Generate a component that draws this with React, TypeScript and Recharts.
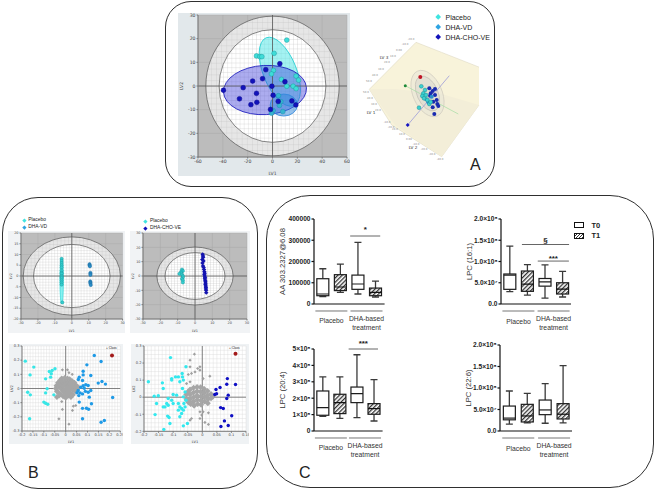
import {
  Area,
  Bar,
  CartesianGrid,
  ComposedChart,
  ReferenceArea,
  ReferenceDot,
  ReferenceLine,
  Scatter,
  ScatterChart,
  XAxis,
  YAxis,
} from "recharts"

// panel A score plot
const aPlacebo = [[11.5,19.4],[1.3,13.8],[-12.9,12.7],[-10.2,12.4],[-8.6,12.4],[0.8,6.6],[-0.8,5.1],[7.2,2.8],[19,4.2],[21,2.5],[11.5,-0.1],[16.6,-0.1],[19,-1.1]]
const aVd = [[4.8,-4.1],[6.7,-6.6],[5.6,-8.2],[0.5,-10.4],[-0.8,-11.5],[8.3,-10.8]]
const aCho = [[5.9,9.4],[-5.4,6.9],[-8,3.1],[-16,2.1],[10,1.8],[-0.5,-0.1],[-39.5,-1.8],[-23.6,-0.7],[-12.9,-3.1],[-26.6,-5.4],[-12.6,-6.9],[-17.4,-7.9],[0.5,-3.9],[4.6,-6.5],[15.6,-6.3],[18.8,-8],[-1.6,-9.9]]

// panel A 3D view, in projection units
const floorEdge = [
  { x: 29.3, edge: [59.3, 59.3] },
  { x: 51.7, edge: [36.8, 95] },
  { x: 76, edge: [12.3, 110.4] },
  { x: 101.7, edge: [22.4, 126.7] },
  { x: 138, edge: [36.7, 76.4] },
  { x: 139, edge: [37.1, 75] },
]
const wallEdge = [
  { x: 29.3, edge: [59.3, 59.3] },
  { x: 55, edge: [59, 95] },
  { x: 101.7, edge: [64, 126.7] },
  { x: 139, edge: [75, 75] },
]
const cubePlacebo = [[81.3,56.3],[85,60],[83.3,63.3],[82.3,66],[84,68.3],[87.3,70],[89.3,74],[79,77.7],[86,65],[90.7,72]]
const cubeVd = [[86,69.3],[88.3,72.3],[91.7,66.7]]
const cubeCho = [[89.3,58.3],[95,59],[92.7,61],[90.7,63.3],[95,65],[96.7,70],[93.3,71.7],[97.3,74],[92.7,77.3],[94.3,84],[98.3,76],[90,65.7]]
const cubeRed = [[80.3,47]]
const cubeGreen = [[65.3,55.7]]
const cubeArrow = [[67.7,95]]
const cubeAxisGreen = [[65.3,55.7],[118.3,84]]
const cubeAxisBlue = [[67.7,95],[109.3,45.7]]
const cubeTicks = [
  { x: 29, y: 52, text: "50.0" }, { x: 35, y: 46, text: "40.0" }, { x: 41, y: 40, text: "30.0" }, { x: 47, y: 33, text: "20.0" },
  { x: 53, y: 27, text: "10.0" }, { x: 59, y: 21, text: "0.00" }, { x: 65, y: 15, text: "-10.0" }, { x: 71, y: 10, text: "-20.0" },
  { x: 26, y: 63, text: "50.0" }, { x: 30, y: 69, text: "40.0" }, { x: 34, y: 75, text: "30.0" }, { x: 38, y: 81, text: "20.0" },
  { x: 47, y: 93, text: "-10.0" }, { x: 51, y: 98, text: "-20.0" },
  { x: 55, y: 100, text: "20.0" }, { x: 62, y: 105, text: "10.0" }, { x: 69, y: 110, text: "0.00" }, { x: 76, y: 115, text: "-10.0" },
  { x: 84, y: 120, text: "-20.0" }, { x: 92, y: 125, text: "-30.0" }, { x: 100, y: 130, text: "-40.0" },
]
const cubeNames = [
  { x: 44, y: 29, text: "LV 3" },
  { x: 31, y: 84, text: "LV 1" },
  { x: 73, y: 119, text: "LV 2" },
]

// panel B scores
const b1Placebo = [[-6,8],[-6,7],[-6,6],[-6,5],[-6,4],[-6,2.5],[-6,1.5],[-6,1],[-6,0],[-6,-0.5],[-6,-1],[-6,-2],[-6,-3],[-6,-4],[-5.6,-12.3]]
const b1Vd = [[10.5,5.5],[10.5,5],[10.7,4.5],[11,1.5],[11,1],[11,0.5],[10.9,-2.5],[11,-3],[11,-3.5],[11.2,-4.2]]
const b2Placebo = [[-7.5,4.5],[-7,3.5],[-8,3],[-8,2],[-9,1.5],[-7.5,1],[-7,0],[-7,-1],[-7.5,-2],[-7,-3],[-7,-4.5]]
const b2Cho = [[4.4,15.1],[4.6,14],[4.7,13],[4.2,11.5],[4.9,10.5],[4.3,9],[4.6,7],[5,6],[5.2,4.5],[5.4,3],[5.6,2],[5.4,1],[5.6,0],[5.8,-1],[5.7,-2],[5.9,-3],[6,-4],[6.1,-5],[6,-6],[6.2,-7],[6.3,-8],[6.3,-9],[6.4,-10],[6.5,-11.6]]

// panel B loadings
const l1Placebo = [[-0.185,0.193],[-0.146,0.151],[-0.163,0.096],[-0.092,0.068],[-0.069,0.08],[-0.066,0.104],[-0.062,0.127],[-0.049,0.139],[-0.075,0.12],[-0.085,-0.002],[-0.092,-0.031],[-0.174,-0.026],[-0.162,-0.045],[-0.1,-0.096],[-0.092,-0.104],[-0.082,-0.111],[-0.165,-0.214],[-0.054,-0.045]]
const l1Vd = [[0.131,0.233],[0.162,0.191],[0.097,0.167],[0.08,0.122],[0.115,0.092],[0.08,0.096],[0.062,0.08],[0.058,0.064],[0.077,0.056],[0.166,0.049],[0.149,0.038],[0.182,0.031],[0.215,-0.064],[0.092,0.026],[0.103,0.021],[0.069,0.009],[0.085,0.002],[0.057,-0.014],[0.066,-0.031],[0.077,-0.038],[0.103,-0.026],[0.115,-0.014],[0.108,-0.061],[0.118,-0.108],[0.062,-0.096],[0.077,-0.14],[0.077,-0.214],[0.095,-0.139],[0.105,-0.146],[0.162,-0.238],[0.177,-0.226],[0.052,-0.03],[0.06,-0.05],[0.08,0.02],[0.09,-0.02]]
const l1Stray = [[-0.015,0.132],[0.008,0.132],[0.015,0.112],[0.03,0.1],[-0.031,-0.214],[0.015,-0.252],[0.031,-0.155],[0.035,-0.125],[0.046,-0.12],[-0.015,-0.148],[-0.018,-0.092]]
const l1Cloud = [[-0.04,-0.06],[-0.045,0],[-0.042,0.02],[-0.04,-0.02],[-0.035,0.04],[-0.033,0.01],[-0.032,-0.03],[-0.03,-0.05],[-0.025,0.058],[-0.024,0.03],[-0.022,0],[-0.023,-0.04],[-0.018,0.07],[-0.014,0.045],[-0.012,0.015],[-0.012,-0.018],[-0.012,-0.055],[-0.005,0.075],[-0.003,0.05],[-0.002,0.025],[-0.001,-0.005],[0,-0.035],[0,-0.065],[0.008,0.07],[0.009,0.04],[0.01,0.012],[0.011,-0.02],[0.012,-0.05],[0.018,0.065],[0.02,0.032],[0.021,0],[0.022,-0.035],[0.024,-0.06],[0.03,0.052],[0.031,0.02],[0.032,-0.012],[0.033,-0.045],[0.04,0.04],[0.042,0.01],[0.043,-0.02],[0.05,0.02],[0.052,-0.005],[0.058,0.005]]
const l2Placebo = [[-0.185,0.09],[-0.109,0.232],[-0.056,0.178],[-0.137,0.084],[-0.134,0.051],[-0.165,0.006],[-0.151,0.008],[-0.157,-0.037],[-0.162,-0.102],[-0.132,-0.189],[-0.111,-0.154],[-0.119,-0.111],[-0.114,-0.119],[-0.065,-0.168],[-0.051,-0.154],[-0.105,0.109],[-0.092,0.119],[-0.082,0.119],[-0.069,0.139],[-0.068,0.119],[-0.065,0.1],[-0.077,0.09],[-0.1,0.016],[-0.088,0.012],[-0.068,0.051],[-0.059,0.031],[-0.065,0.002],[-0.082,-0.037],[-0.077,-0.057],[-0.071,-0.066],[-0.059,-0.057],[-0.065,-0.076],[-0.071,-0.096],[-0.077,-0.115],[-0.082,-0.076],[-0.122,-0.037],[-0.128,-0.057],[-0.134,-0.057],[-0.117,-0.047],[-0.105,-0.018],[-0.117,-0.008],[-0.1,-0.037],[-0.056,-0.018],[-0.063,-0.037],[-0.105,0.1]]
const l2Cho = [[0.086,0.109],[0.084,0.076],[0.114,0.074],[0.061,0.057],[0.047,0.045],[0.049,0.02],[0.043,0.016],[0.089,0.012],[0.084,-0.008],[0.063,-0.061],[0.072,-0.066],[0.101,-0.109],[0.076,-0.139],[0.064,-0.172],[0.089,-0.166]]
const l2Stray = [[-0.027,0.252],[-0.042,0.217],[-0.042,0.178],[-0.008,0.178],[-0.016,0.168],[-0.025,0.148],[-0.037,0.139],[-0.048,0.133],[-0.008,0.158],[0.026,0.123],[-0.054,0.08],[-0.042,0.09],[0.003,0.109],[-0.037,-0.125],[-0.042,-0.135],[-0.008,-0.086],[0.003,-0.086],[0.021,-0.092],[-0.002,-0.105],[0.009,-0.148],[0.021,-0.16],[-0.008,-0.125]]
const l2Cloud = [[-0.055,0.015],[-0.054,-0.01],[-0.05,0.03],[-0.048,-0.03],[-0.042,0.045],[-0.042,0.015],[-0.042,-0.012],[-0.04,-0.04],[-0.03,0.055],[-0.03,0.028],[-0.03,0],[-0.03,-0.025],[-0.028,-0.05],[-0.018,0.06],[-0.018,0.035],[-0.018,0.01],[-0.017,-0.015],[-0.016,-0.04],[-0.006,0.058],[-0.006,0.032],[-0.005,0.006],[-0.005,-0.02],[-0.004,-0.045],[0.006,0.05],[0.006,0.025],[0.007,0],[0.007,-0.025],[0.018,0.036],[0.018,0.012],[0.019,-0.012],[0.019,-0.035],[0.03,0.018],[0.03,-0.006],[0.036,0.002]]

// panel C boxes: low, q1, median, q3, high
const aaBoxes = [[35000,39000,47000,119000,166000],[55000,63000,80000,138000,188000],[47000,69000,94000,136000,290000],[33000,39000,55000,75000,108000]]
const lpc161Boxes = [[2.9e7,3.45e7,6.8e7,7.06e7,13.6e7],[2.1e7,2.98e7,4.7e7,7.76e7,9.25e7],[1.4e7,4.2e7,5.2e7,6e7,9.2e7],[1.65e7,2.35e7,3.5e7,5e7,7.7e7]]
const lpc204Boxes = [[0.9e8,0.96e8,1.42e8,2.44e8,3.3e8],[0.77e8,1.06e8,1.73e8,2.24e8,3.3e8],[0.81e8,1.73e8,2.28e8,2.68e8,4.65e8],[0.61e8,1.02e8,1.36e8,1.67e8,3.13e8]]
const lpc226Boxes = [[1.6e7,2.6e7,3e7,5.8e7,9.3e7],[1.9e7,2.1e7,3.5e7,6.2e7,8.76e7],[1.8e7,3.8e7,4.9e7,7.2e7,11e7],[1.9e7,2.8e7,3.9e7,6.36e7,15.2e7]]
const boxGroups = ["Placebo", "DHA-based|treatment"]
const aaTicks = [0, 100000, 200000, 300000, 400000]
const lpc2Ticks = [0, 5e7, 1e8, 1.5e8, 2e8]
const lpc5Ticks = [0, 1e8, 2e8, 3e8, 4e8, 5e8]
const lpc2Labels: Record<number, string> = { 0: "0.0", 5e7: "5.0×10⁷", 1e8: "1.0×10⁸", 1.5e8: "1.5×10⁸", 2e8: "2.0×10⁸" }
const lpc5Labels: Record<number, string> = { 0: "0", 1e8: "1×10⁸", 2e8: "2×10⁸", 3e8: "3×10⁸", 4e8: "4×10⁸", 5e8: "5×10⁸" }

const PLACEBO = "#40e4e0"
const VD = "#2ea4e2"
const CHO = "#1212ba"
const FONT = "Liberation Sans, Arial, sans-serif"
const PLOT_FONT = "DejaVu Sans, sans-serif"

const toPoints = (rows: number[][]) => rows.map(([x, y]) => ({ x, y }))
const gridLines = (from: number, to: number, step: number) => {
  const out: number[] = []
  for (let v = from; v <= to + step / 10; v += step) out.push(+v.toFixed(4))
  return out
}

function RingShape(props: any) {
  const { x, y, width, height, fill, ringId, cols, rows, ringStroke } = props
  return (
    <g>
      <defs>
        <pattern id={ringId} patternUnits="objectBoundingBox" width={1 / cols} height={1 / rows}>
          <rect width={width / cols} height={height / rows} fill={fill} />
          <path d={`M${width / cols} 0H0V${height / rows}`} fill="none" stroke="#bdbdbd" strokeWidth={0.5} />
        </pattern>
      </defs>
      <ellipse cx={x + width / 2} cy={y + height / 2} rx={width / 2} ry={height / 2} fill={`url(#${ringId})`} stroke={ringStroke} strokeWidth={0.7} />
    </g>
  )
}

function BlobShape(props: any) {
  const { x, y, width, height, fill, stroke, fillOpacity, angle = 0 } = props
  const cx = x + width / 2
  const cy = y + height / 2
  return <ellipse cx={cx} cy={cy} rx={width / 2} ry={height / 2} fill={fill} fillOpacity={fillOpacity} stroke={stroke} strokeWidth={0.8} transform={`rotate(${angle} ${cx} ${cy})`} />
}

const dot = (r: number, fill: string, stroke = "none") => (p: any) => (
  <circle cx={p.cx} cy={p.cy} r={r} fill={fill} stroke={stroke} strokeWidth={0.5} />
)
const diamond = (r: number, fill: string) => (p: any) => (
  <path d={`M${p.cx} ${p.cy - r}L${p.cx + r} ${p.cy}L${p.cx} ${p.cy + r}L${p.cx - r} ${p.cy}Z`} fill={fill} />
)

function Frame({ left, top, width, height, radius }: any) {
  return (
    <div style={{ position: "absolute", left, top, width, height, borderRadius: radius, border: "1.4px solid #2f2f2f", boxSizing: "border-box" }} />
  )
}

function Caption({ left, top, size = 15, bold = false, children }: any) {
  return (
    <div style={{ position: "absolute", left, top, fontSize: size, lineHeight: 1, fontWeight: bold ? 700 : 400, fontFamily: FONT, color: "#222", whiteSpace: "nowrap" }}>
      {children}
    </div>
  )
}

function LegendRow({ left, top, color, size, textSize, label, gap }: any) {
  return (
    <>
      <div style={{ position: "absolute", left: left - size / 2, top: top - size / 2, width: size, height: size, background: color, transform: "rotate(45deg)" }} />
      <Caption left={left + gap} top={top - textSize / 2} size={textSize}>{label}</Caption>
    </>
  )
}

function ScorePlot({ left, top, width, height, xDomain, yDomain, xTicks, yTicks, outer, inner, cols, rows, fontSize, id, blobs = [], series, yw, xh, back = "#e2e8eb", xLabel = "LV1", yLabel = "LV2" }: any) {
  const labelStyle = { fontSize, fill: "#444", fontFamily: PLOT_FONT }
  return (
    <div style={{ position: "absolute", left: left - yw, top: top - 2 }}>
      <ScatterChart width={width + yw + 3} height={height + xh + 2} margin={{ top: 2, right: 3, bottom: 0, left: 0 }} style={{ background: back }}>
        <CartesianGrid fill="#bcbcbc" stroke="#a9a9a9" strokeWidth={0.5} verticalValues={xTicks} horizontalValues={yTicks} />
        <XAxis type="number" dataKey="x" domain={xDomain} ticks={xTicks} height={xh} allowDataOverflow tickSize={1.5} tickMargin={1} interval={0} stroke="#777" tick={labelStyle} label={{ value: xLabel, position: "insideBottom", offset: 1, ...labelStyle }} />
        <YAxis type="number" dataKey="y" domain={yDomain} ticks={yTicks} width={yw} allowDataOverflow tickSize={1.5} tickMargin={1} interval={0} stroke="#777" tick={labelStyle} label={{ value: yLabel, angle: -90, position: "insideLeft", offset: fontSize * 0.7, ...labelStyle, style: { textAnchor: "middle" } }} />
        <ReferenceArea x1={-outer[0]} x2={outer[0]} y1={-outer[1]} y2={outer[1]} ifOverflow="visible" shape={(p: any) => <RingShape {...p} fill="#e6e6e6" ringId={`${id}o`} cols={cols} rows={rows} ringStroke="#555" />} />
        <ReferenceArea x1={-inner[0]} x2={inner[0]} y1={-inner[1]} y2={inner[1]} ifOverflow="visible" shape={(p: any) => <RingShape {...p} fill="#ffffff" ringId={`${id}i`} cols={cols} rows={rows} ringStroke="#555" />} />
        <ReferenceLine x={0} stroke="#555" strokeWidth={0.8} />
        <ReferenceLine y={0} stroke="#555" strokeWidth={0.8} />
        {blobs.map((b: any, i: number) => (
          <ReferenceArea key={i} x1={b.x[0]} x2={b.x[1]} y1={b.y[0]} y2={b.y[1]} ifOverflow="visible" shape={(p: any) => <BlobShape {...p} fill={b.fill} fillOpacity={b.opacity} stroke={b.stroke} angle={b.angle} />} />
        ))}
        {series.map((s: any, i: number) => (
          <Scatter key={i} data={toPoints(s.rows)} shape={s.shape} isAnimationActive={false} />
        ))}
      </ScatterChart>
    </div>
  )
}

function LoadingPlot({ left, top, width, height, xDomain, yDomain, xTicks, yTicks, xFine, yFine, series }: any) {
  const yw = 13
  const xh = 13
  const ticks = { fontSize: 3.6, fill: "#444", fontFamily: PLOT_FONT }
  return (
    <div style={{ position: "absolute", left: left - yw, top: top - 2 }}>
      <ScatterChart width={width + yw + 3} height={height + xh + 2} margin={{ top: 2, right: 3, bottom: 0, left: 0 }} style={{ background: "#eff2f4" }}>
        <CartesianGrid fill="#ffffff" stroke="#d9d9d9" strokeWidth={0.4} verticalValues={xFine} horizontalValues={yFine} />
        <XAxis type="number" dataKey="x" domain={xDomain} ticks={xTicks} height={xh} allowDataOverflow tickSize={1.5} tickMargin={1} interval={0} stroke="#777" tick={ticks} label={{ value: "LV1", position: "insideBottom", offset: 1, ...ticks }} />
        <YAxis type="number" dataKey="y" domain={yDomain} ticks={yTicks} width={yw} allowDataOverflow tickSize={1.5} tickMargin={1} interval={0} stroke="#777" tick={ticks} label={{ value: "LV2", angle: -90, position: "insideLeft", offset: 2.5, ...ticks, style: { textAnchor: "middle" } }} />
        <ReferenceLine x={0} stroke="#666" strokeWidth={0.8} />
        <ReferenceLine y={0} stroke="#666" strokeWidth={0.8} />
        {series.map((s: any, i: number) => (
          <Scatter key={i} data={toPoints(s.rows)} shape={s.shape} isAnimationActive={false} />
        ))}
      </ScatterChart>
    </div>
  )
}

const tinyText = (size: number, color: string) => (p: any) => (
  <text x={p.cx} y={p.cy} fontSize={size} fill={color} textAnchor="middle" fontFamily={PLOT_FONT}>{p.payload.text}</text>
)

const cubeMargin = { top: 0, right: 0, bottom: 0, left: 0 }

function CubeView() {
  return (
    <>
      <div style={{ position: "absolute", left: 340, top: 30 }}>
        <ComposedChart width={145} height={135} margin={cubeMargin} data={floorEdge}>
          <XAxis type="number" dataKey="x" domain={[0, 145]} hide allowDataOverflow />
          <YAxis type="number" domain={[0, 135]} reversed hide allowDataOverflow />
          <Area data={floorEdge} dataKey="edge" type="linear" stroke="#d9d3ba" strokeWidth={0.5} fill="#f8f3da" fillOpacity={1} isAnimationActive={false} dot={false} activeDot={false} />
          <Area data={wallEdge} dataKey="edge" type="linear" stroke="none" fill="#f3eed8" fillOpacity={1} isAnimationActive={false} dot={false} activeDot={false} />
        </ComposedChart>
      </div>
      <div style={{ position: "absolute", left: 340, top: 30 }}>
        <ScatterChart width={145} height={135} margin={cubeMargin}>
          <XAxis type="number" dataKey="x" domain={[0, 145]} hide allowDataOverflow />
          <YAxis type="number" dataKey="y" domain={[0, 135]} reversed hide allowDataOverflow />
          <ReferenceArea x1={73} x2={102} y1={39} y2={88} ifOverflow="visible" shape={(p: any) => <BlobShape {...p} fill="#e6e3d6" stroke="#d4d0c2" angle={-24} />} />
          <ReferenceArea x1={77} x2={98} y1={45} y2={82} ifOverflow="visible" shape={(p: any) => <BlobShape {...p} fill="#d8d6cd" stroke="#c8c5ba" angle={-24} />} />
          <Scatter data={toPoints(cubeAxisGreen)} line={{ stroke: "#a5dca5", strokeWidth: 0.7 }} shape={() => <g />} isAnimationActive={false} />
          <Scatter data={toPoints(cubeAxisBlue)} line={{ stroke: "#8f8fd8", strokeWidth: 0.7 }} shape={() => <g />} isAnimationActive={false} />
          <Scatter data={cubeTicks} shape={tinyText(2.6, "#888")} isAnimationActive={false} />
          <Scatter data={cubeNames} shape={tinyText(4.2, "#333")} isAnimationActive={false} />
          <Scatter data={toPoints(cubeRed)} shape={dot(2, "#c01525")} isAnimationActive={false} />
          <Scatter data={toPoints(cubeGreen)} shape={dot(1.5, "#1f8a3a")} isAnimationActive={false} />
          <Scatter data={toPoints(cubeArrow)} shape={diamond(2, "#1414c0")} isAnimationActive={false} />
          <Scatter data={toPoints(cubeCho)} shape={dot(2, "#1a2bb0")} isAnimationActive={false} />
          <Scatter data={toPoints(cubeVd)} shape={dot(2, "#2a8ecc")} isAnimationActive={false} />
          <Scatter data={toPoints(cubePlacebo)} shape={dot(1.9, "#3ad0d0", "#1b8f94")} isAnimationActive={false} />
        </ScatterChart>
      </div>
    </>
  )
}

function BoxShape(props: any) {
  const { x, y, width, height, payload, index } = props
  const [low, q1, med, q3, high] = payload.box
  const py = (v: number) => y + ((q3 - v) * height) / (q3 - q1)
  const cx = x + width / 2
  const hatched = payload.pos % 2 === 0
  const id = `hatch-${payload.id}-${index}`
  return (
    <g stroke="#1c1c1c" strokeWidth={1.2} fill="none">
      <defs>
        <pattern id={id} patternUnits="userSpaceOnUse" width={3} height={3} patternTransform="rotate(-45)">
          <rect width={3} height={3} fill="#fff" stroke="none" />
          <rect width={3} height={1.3} fill="#333" stroke="none" />
        </pattern>
      </defs>
      <path d={`M${cx} ${py(high)}V${py(q3)}M${cx} ${py(q1)}V${py(low)}M${cx - 3.5} ${py(high)}H${cx + 3.5}M${cx - 3.5} ${py(low)}H${cx + 3.5}`} stroke="#3a3a3a" strokeWidth={1.3} />
      <rect x={x} y={y} width={width} height={height} fill={hatched ? `url(#${id})` : "#fff"} />
      <path d={`M${x} ${py(med)}H${x + width}`} stroke={hatched ? "#111" : "#1c1c1c"} strokeWidth={1.2} />
    </g>
  )
}

function GroupTick({ x, y, payload }: any) {
  const lines = boxGroups[payload.value === 1.5 ? 0 : 1].split("|")
  return (
    <g fontFamily={FONT} fontSize={6.8} fill="#333" textAnchor="middle">
      <line x1={x - 16} x2={x + 16} y1={y + 7} y2={y + 7} stroke="#666" strokeWidth={0.9} />
      {lines.length === 1 ? (
        <text x={x} y={y + 19.5} stroke="none">{lines[0]}</text>
      ) : (
        <>
          <text x={x} y={y + 17} stroke="none">{lines[0]}</text>
          <text x={x} y={y + 26} stroke="none">{lines[1]}</text>
        </>
      )}
    </g>
  )
}

function BoxChart({ id, axisX, top, width, height, xDomain, yMax, ticks, tickLabel, yLabel, boxes, marks = [] }: any) {
  const rows = boxes.map((box: number[], i: number) => ({ id, pos: i + 1, box, range: [box[1], box[3]] }))
  const yw = 36
  const mt = 12
  return (
    <div style={{ position: "absolute", left: axisX - yw, top: top - mt }}>
      <ComposedChart width={width + yw + 6} height={height + mt + 46} data={rows} margin={{ top: mt, right: 6, bottom: 0, left: 0 }}>
        <XAxis type="number" dataKey="pos" domain={xDomain} ticks={[1.5, 3.5]} height={46} allowDataOverflow stroke="#111" strokeWidth={1.2} tickLine={false} tickSize={0} tickMargin={0} interval={0} tick={(p: any) => <GroupTick {...p} />} />
        <YAxis type="number" domain={[0, yMax]} ticks={ticks} width={yw} stroke="#111" strokeWidth={1.2} tickSize={2.5} tickMargin={1} interval={0} tickFormatter={tickLabel} tick={{ fontSize: 6.6, fontWeight: 700, fill: "#222", fontFamily: FONT }} label={{ value: yLabel, angle: -90, position: "insideLeft", offset: 4, fontSize: 7.7, fill: "#333", fontFamily: FONT, style: { textAnchor: "middle" } }} />
        <Bar dataKey="range" barSize={12} shape={(p: any) => <BoxShape {...p} />} isAnimationActive={false} />
        {marks.map((m: any, i: number) => (
          <ReferenceLine key={i} segment={[{ x: m.from, y: m.y }, { x: m.to, y: m.y }]} stroke="#555" strokeWidth={0.9} ifOverflow="visible" />
        ))}
        {marks.map((m: any, i: number) => (
          <ReferenceDot key={i} x={(m.from + m.to) / 2} y={m.textY} r={0} ifOverflow="visible" stroke="none" fill="none" label={{ value: m.text, position: "center", fontSize: 8, fontWeight: 700, fill: "#222", fontFamily: FONT }} />
        ))}
      </ComposedChart>
    </div>
  )
}

export default function App() {
  return (
    <div style={{ position: "absolute", left: 0, top: 0, width: 658, height: 491, background: "#fff", overflow: "hidden" }}>
      <Frame left={165} top={1} width={330} height={186} radius={26} />
      <Frame left={2} top={197} width={256} height={292} radius={36} />
      <Frame left={266} top={195} width={388} height={293} radius={44} />

      <div style={{ position: "absolute", left: 178, top: 13, width: 172, height: 163, background: "#e2e8eb" }} />
      <ScorePlot
        id="a" left={198.3} top={15} width={149} height={142} xDomain={[-60, 60]} yDomain={[-30, 30]}
        xTicks={[-60, -40, -20, 0, 20, 40, 60]} yTicks={[-30, -20, -10, 0, 10, 20, 30]}
        outer={[53.7, 29.5]} inner={[43, 23.8]} cols={26} rows={24} fontSize={4.6} yw={20} xh={19}
        blobs={[
          { x: [-7.5, 19.3], y: [-9.4, 21.5], fill: "#47e6e6", opacity: 0.5, stroke: "#25cfd2", angle: -22 },
          { x: [-39.5, 27.4], y: [-12.1, 8.7], fill: "#3a3ad8", opacity: 0.42, stroke: "#1212ba", angle: -3 },
          { x: [-1.9, 20], y: [-12.7, -3.4], fill: "#2e86dc", opacity: 0.5, stroke: "#2e86dc", angle: 0 },
        ]}
        series={[
          { rows: aPlacebo, shape: dot(2.4, "#3fdcd8", "#1c9fa0") },
          { rows: aVd, shape: dot(2.4, "#35b4cf", "#1c8fb0") },
          { rows: aCho, shape: dot(2.4, CHO, "#0d0d90") },
        ]}
      />
      <CubeView />
      <LegendRow left={438} top={17} color={PLACEBO} size={4.4} textSize={7} label="Placebo" gap={7.5} />
      <LegendRow left={438} top={27} color={VD} size={4.4} textSize={7} label="DHA-VD" gap={7.5} />
      <LegendRow left={438} top={37} color={CHO} size={4.4} textSize={7} label="DHA-CHO-VE" gap={7.5} />
      <Caption left={470} top={157} size={16}>A</Caption>

      <LegendRow left={24} top={220.7} color={PLACEBO} size={2.8} textSize={4.9} label="Placebo" gap={4.2} />
      <LegendRow left={24} top={227.7} color={VD} size={2.8} textSize={4.9} label="DHA-VD" gap={4.2} />
      <LegendRow left={145} top={221.7} color={PLACEBO} size={2.8} textSize={4.9} label="Placebo" gap={5} />
      <LegendRow left={145} top={228.3} color={CHO} size={2.8} textSize={4.9} label="DHA-CHO-VE" gap={5} />
      <ScorePlot
        id="b1" left={20.7} top={233.3} width={101.6} height={86} xDomain={[-30, 30]} yDomain={[-20, 20]}
        xTicks={[-30, -20, -10, 0, 10, 20, 30]} yTicks={[-20, -15, -10, -5, 0, 5, 10, 15, 20]}
        outer={[28.7, 18.2]} inner={[22.6, 14.7]} cols={26} rows={22} fontSize={3.4} yw={13} xh={14} back="#f1f3f5"
        blobs={[{ x: [-7, -5], y: [-13, 8.6], fill: "#6beeee", opacity: 0.8, stroke: "#40e0e0", angle: 0 }]}
        series={[
          { rows: b1Placebo, shape: dot(1.6, "#35cfcf", "#1b9aa0") },
          { rows: b1Vd, shape: dot(1.6, "#2a8dc8", "#1c6da0") },
        ]}
      />
      <ScorePlot
        id="b2" left={142.7} top={233.3} width={104} height={86} xDomain={[-30, 30]} yDomain={[-30, 30]}
        xTicks={[-30, -20, -10, 0, 10, 20, 30]} yTicks={[-30, -20, -10, 0, 10, 20, 30]}
        outer={[22, 20.2]} inner={[17.3, 16.3]} cols={20} rows={20} fontSize={3.4} yw={13} xh={14} back="#f1f3f5"
        series={[
          { rows: b2Placebo, shape: dot(1.6, "#35cfcf", "#1b9aa0") },
          { rows: b2Cho, shape: diamond(2.2, "#1414b0") },
        ]}
      />
      <LoadingPlot
        left={21.7} top={345.7} width={98.3} height={85} xDomain={[-0.2, 0.25]} yDomain={[-0.3, 0.3]}
        xTicks={[-0.2, -0.15, -0.1, -0.05, 0, 0.05, 0.1, 0.15, 0.2, 0.25]} yTicks={[-0.3, -0.2, -0.1, 0, 0.1, 0.2, 0.3]}
        xFine={gridLines(-0.2, 0.25, 0.0125)} yFine={gridLines(-0.3, 0.3, 0.025)}
        series={[
          { rows: l1Cloud, shape: diamond(3, "#a6a6a6") },
          { rows: l1Stray, shape: diamond(1.6, "#a0a0a0") },
          { rows: l1Placebo, shape: dot(1.7, "#38e6e6") },
          { rows: l1Vd, shape: dot(1.7, "#1f9ae6") },
          { rows: [[0.212, 0.233]], shape: dot(2, "#a31a1a") },
        ]}
      />
      <LoadingPlot
        left={144} top={345.7} width={102} height={85.3} xDomain={[-0.2, 0.15]} yDomain={[-0.2, 0.3]}
        xTicks={[-0.2, -0.15, -0.1, -0.05, 0, 0.05, 0.1, 0.15]} yTicks={[-0.2, -0.1, 0, 0.1, 0.2, 0.3]}
        xFine={gridLines(-0.2, 0.15, 0.0125)} yFine={gridLines(-0.2, 0.3, 0.025)}
        series={[
          { rows: l2Cloud, shape: diamond(3, "#a6a6a6") },
          { rows: l2Stray, shape: diamond(1.6, "#a0a0a0") },
          { rows: l2Placebo, shape: dot(1.7, "#33e8ee") },
          { rows: l2Cho, shape: dot(1.7, "#0f0fc4") },
          { rows: [[0.114, 0.254]], shape: dot(2, "#a31a1a") },
        ]}
      />
      <Caption left={106} top={347} size={3.2}>+ Class</Caption>
      <Caption left={229} top={347} size={3.2}>+ Class</Caption>
      <Caption left={28} top={465} size={16}>B</Caption>

      <BoxChart
        id="aa" axisX={313.7} top={219.3} width={70.6} height={85} xDomain={[0.51, 4.53]} yMax={400000} ticks={aaTicks}
        tickLabel={(v: number) => String(v)} yLabel="AA 303.2327@6.08" boxes={aaBoxes}
        marks={[{ from: 2.57, to: 4.28, y: 320000, textY: 350000, text: "*" }]}
      />
      <BoxChart
        id="l161" axisX={500.7} top={219.3} width={70} height={85} xDomain={[0.51, 4.49]} yMax={2e8} ticks={lpc2Ticks}
        tickLabel={(v: number) => lpc2Labels[v]} yLabel="LPC (16:1)" boxes={lpc161Boxes}
        marks={[
          { from: 1.7, to: 4.38, y: 1.4e8, textY: 1.5e8, text: "§" },
          { from: 2.6, to: 4.37, y: 1.01e8, textY: 1.09e8, text: "***" },
        ]}
      />
      <BoxChart
        id="l204" axisX={313.7} top={348.7} width={68.6} height={82} xDomain={[0.51, 4.53]} yMax={5e8} ticks={lpc5Ticks}
        tickLabel={(v: number) => lpc5Labels[v]} yLabel="LPC (20:4)" boxes={lpc204Boxes}
        marks={[{ from: 2.54, to: 4.26, y: 5e8, textY: 5.33e8, text: "***" }]}
      />
      <BoxChart
        id="l226" axisX={500} top={344.7} width={72} height={86} xDomain={[0.48, 4.5]} yMax={2e8} ticks={lpc2Ticks}
        tickLabel={(v: number) => lpc2Labels[v]} yLabel="LPC (22:6)" boxes={lpc226Boxes}
      />
      <div style={{ position: "absolute", left: 574, top: 222, width: 10, height: 6, border: "1.2px solid #111", boxSizing: "border-box", background: "#fff" }} />
      <div style={{ position: "absolute", left: 574, top: 233, width: 10, height: 6, border: "1.2px solid #111", boxSizing: "border-box", background: "repeating-linear-gradient(-45deg,#333 0,#333 1px,#fff 1px,#fff 2.2px)" }} />
      <Caption left={591.5} top={221.5} size={7.5} bold>T0</Caption>
      <Caption left={591.5} top={232} size={7.5} bold>T1</Caption>
      <Caption left={299} top={465} size={16}>C</Caption>
    </div>
  )
}
